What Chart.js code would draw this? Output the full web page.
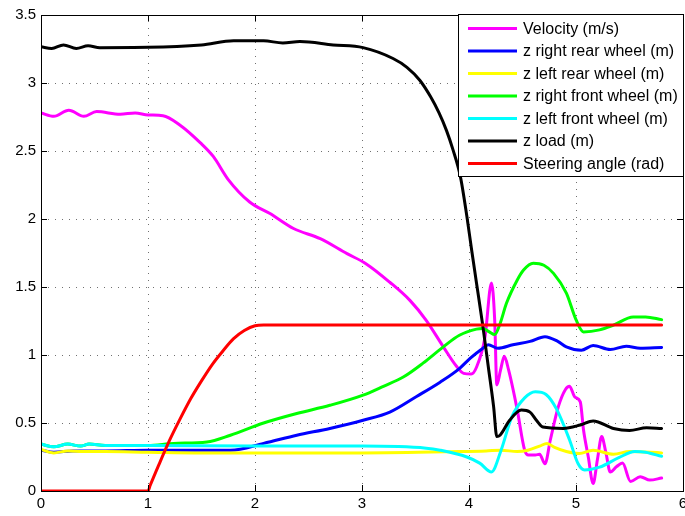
<!DOCTYPE html>
<html>
<head>
<meta charset="utf-8">
<script src="https://cdn.jsdelivr.net/npm/chart.js@4"></script>
<style>
  body { margin: 0; background: #fff; }
  canvas { display: block; }
</style>
</head>
<body>
<canvas id="myChart" width="685" height="516"></canvas>
<script>
// tick values
var xTicks = [0, 1, 2, 3, 4, 5, 6];
var yTicks = [0, 0.5, 1, 1.5, 2, 2.5, 3, 3.5];

var labels = [
  "Velocity (m/s)",
  "z right rear wheel (m)",
  "z left rear wheel (m)",
  "z right front wheel (m)",
  "z left front wheel (m)",
  "z load (m)",
  "Steering angle (rad)",
];
var colors = ["#ff00ff", "#0000ff", "#ffff00", "#00ff00", "#00ffff", "#000000", "#ff0000"];

// velocity (m/s)
var velT = [0, 0.12, 0.26, 0.4, 0.52, 0.74, 0.88, 1.0, 1.14, 1.3, 1.49, 1.61, 1.75, 1.95, 2.14, 2.36, 2.61, 2.86, 3.04, 3.26, 3.45, 3.6, 3.76, 3.885, 3.95, 4.02, 4.07, 4.15, 4.21, 4.24, 4.26, 4.295, 4.33, 4.37, 4.45, 4.52, 4.555, 4.62, 4.66, 4.71, 4.76, 4.835, 4.9, 4.94, 4.99, 5.04, 5.07, 5.115, 5.16, 5.2, 5.24, 5.28, 5.32, 5.38, 5.435, 5.51, 5.6, 5.69, 5.8];
var velY = [2.78, 2.755, 2.8, 2.755, 2.79, 2.77, 2.78, 2.765, 2.76, 2.69, 2.56, 2.46, 2.29, 2.125, 2.04, 1.93, 1.855, 1.745, 1.67, 1.535, 1.4, 1.255, 1.06, 0.915, 0.865, 0.86, 0.91, 1.135, 1.53, 1.26, 0.78, 0.89, 0.99, 0.89, 0.6, 0.3, 0.265, 0.265, 0.27, 0.2, 0.375, 0.62, 0.745, 0.77, 0.69, 0.655, 0.45, 0.25, 0.055, 0.23, 0.4, 0.28, 0.14, 0.18, 0.205, 0.07, 0.105, 0.08, 0.095];

// z right rear wheel
var rrT = [0, 0.12, 0.3, 0.6, 1.0, 1.5, 1.77, 2.08, 2.39, 2.7, 3.01, 3.26, 3.51, 3.73, 3.91, 4.01, 4.13, 4.18, 4.27, 4.41, 4.57, 4.71, 4.83, 4.91, 5.05, 5.16, 5.32, 5.47, 5.6, 5.8];
var rrY = [0.3, 0.285, 0.295, 0.295, 0.3, 0.3, 0.3, 0.35, 0.41, 0.46, 0.52, 0.58, 0.695, 0.8, 0.9, 0.975, 1.05, 1.075, 1.05, 1.075, 1.1, 1.135, 1.1, 1.06, 1.035, 1.07, 1.04, 1.065, 1.05, 1.055];

// z left rear wheel
var lrT = [0, 0.12, 0.25, 0.4, 0.6, 1.0, 1.5, 2.0, 3.0, 3.9, 4.16, 4.3, 4.45, 4.55, 4.66, 4.73, 4.8, 4.91, 5.03, 5.16, 5.35, 5.5, 5.8];
var lrY = [0.305, 0.28, 0.295, 0.29, 0.29, 0.285, 0.28, 0.28, 0.28, 0.29, 0.295, 0.3, 0.29, 0.3, 0.33, 0.35, 0.32, 0.29, 0.275, 0.3, 0.27, 0.29, 0.28];

// z right front wheel
var rfT = [0, 0.12, 0.25, 0.37, 0.45, 0.6, 1.0, 1.24, 1.55, 1.77, 2.08, 2.39, 2.7, 3.01, 3.2, 3.39, 3.57, 3.76, 3.91, 4.07, 4.13, 4.19, 4.24, 4.29, 4.35, 4.45, 4.51, 4.6, 4.7, 4.79, 4.91, 5.0, 5.07, 5.22, 5.35, 5.535, 5.65, 5.8];
var rfY = [0.345, 0.325, 0.345, 0.33, 0.345, 0.335, 0.335, 0.35, 0.36, 0.41, 0.5, 0.57, 0.63, 0.705, 0.77, 0.84, 0.94, 1.06, 1.145, 1.19, 1.195, 1.17, 1.15, 1.23, 1.38, 1.55, 1.625, 1.675, 1.66, 1.6, 1.455, 1.26, 1.17, 1.185, 1.22, 1.28, 1.28, 1.26];

// z left front wheel
var lfT = [0, 0.12, 0.25, 0.37, 0.45, 0.6, 1.0, 2.0, 3.0, 3.6, 3.73, 3.98, 4.1, 4.21, 4.3, 4.4, 4.52, 4.62, 4.72, 4.82, 4.94, 5.02, 5.08, 5.22, 5.4, 5.55, 5.65, 5.8];
var lfY = [0.345, 0.325, 0.345, 0.33, 0.345, 0.335, 0.335, 0.33, 0.33, 0.315, 0.3, 0.25, 0.205, 0.14, 0.3, 0.545, 0.685, 0.73, 0.71, 0.6, 0.375, 0.2, 0.155, 0.175, 0.245, 0.29, 0.285, 0.255];

// z load
var loadT = [0, 0.1, 0.21, 0.33, 0.44, 0.55, 1.0, 1.5, 1.8, 2.08, 2.26, 2.42, 2.73, 3.01, 3.29, 3.42, 3.54, 3.64, 3.72, 3.79, 3.85, 3.92, 3.98, 4.025, 4.07, 4.13, 4.18, 4.23, 4.26, 4.29, 4.38, 4.49, 4.57, 4.63, 4.69, 4.88, 5.04, 5.16, 5.35, 5.5, 5.66, 5.8];
var loadY = [3.266, 3.254, 3.28, 3.254, 3.273, 3.26, 3.262, 3.28, 3.31, 3.31, 3.295, 3.305, 3.28, 3.26, 3.18, 3.115, 3.02, 2.9, 2.78, 2.65, 2.51, 2.31, 2.02, 1.77, 1.53, 1.21, 0.915, 0.62, 0.4, 0.41, 0.52, 0.595, 0.58, 0.52, 0.47, 0.46, 0.485, 0.515, 0.46, 0.445, 0.465, 0.46];

// steering angle
var steerT = [0, 1.0, 1.02, 1.1, 1.2, 1.3, 1.4, 1.5, 1.6, 1.7, 1.8, 1.9, 2.0, 2.08, 5.8];
var steerY = [0, 0, 0.04, 0.19, 0.37, 0.53, 0.68, 0.81, 0.93, 1.03, 1.12, 1.18, 1.215, 1.22, 1.22];

var seriesT = [velT, rrT, lrT, rfT, lfT, loadT, steerT];
var seriesY = [velY, rrY, lrY, rfY, lfY, loadY, steerY];

var datasets = labels.map((label, k) => ({
  label: label,
  data: seriesT[k].map((t, i) => ({ x: t, y: seriesY[k][i] })),
  borderColor: colors[k],
  backgroundColor: colors[k],
  borderWidth: 3,
  pointRadius: 0,
  fill: false,
  cubicInterpolationMode: "monotone",
  borderJoinStyle: "round",
  borderCapStyle: "round",
  order: labels.length - k,
}));

// dotted grid under the lines
var gridPlugin = {
  id: "dotgrid",
  beforeDatasetsDraw(chart) {
    const c = chart.ctx;
    const a = chart.chartArea;
    const sx = chart.scales.x;
    const sy = chart.scales.y;
    c.save();
    c.strokeStyle = "#707070";
    c.lineWidth = 1;
    c.setLineDash([1, 6]);
    c.beginPath();
    xTicks.forEach((v) => {
      const p = Math.round(sx.getPixelForValue(v)) + 0.5;
      c.moveTo(p, a.bottom);
      c.lineTo(p, a.top);
    });
    yTicks.forEach((v) => {
      const p = Math.round(sy.getPixelForValue(v)) + 0.5;
      c.moveTo(a.left, p);
      c.lineTo(a.right, p);
    });
    c.stroke();
    c.restore();
  },
};

// matlab style box, inward ticks and legend
var boxPlugin = {
  id: "box",
  afterDatasetsDraw(chart) {
    const c = chart.ctx;
    const a = chart.chartArea;
    const sx = chart.scales.x;
    const sy = chart.scales.y;
    c.save();
    c.strokeStyle = "#000";
    c.lineWidth = 1;
    c.beginPath();
    xTicks.forEach((v) => {
      const p = Math.round(sx.getPixelForValue(v)) + 0.5;
      c.moveTo(p, a.bottom);
      c.lineTo(p, a.bottom - 6);
      c.moveTo(p, a.top);
      c.lineTo(p, a.top + 6);
    });
    yTicks.forEach((v) => {
      const p = Math.round(sy.getPixelForValue(v)) + 0.5;
      c.moveTo(a.left, p);
      c.lineTo(a.left + 6, p);
      c.moveTo(a.right, p);
      c.lineTo(a.right - 6, p);
    });
    c.stroke();
    c.strokeRect(Math.round(a.left) + 0.5, Math.round(a.top) + 0.5, Math.round(a.right - a.left), Math.round(a.bottom - a.top));

    // legend
    const lx = 458.5, ly = 14.5, lw = a.right - 458, lh = 162;
    c.fillStyle = "#fff";
    c.fillRect(lx, ly, lw, lh);
    c.strokeRect(lx, ly, lw, lh);
    c.font = "16px 'Liberation Sans', Arial, sans-serif";
    c.textBaseline = "middle";
    c.textAlign = "left";
    labels.forEach((label, k) => {
      const yy = 28.5 + k * 22.5;
      c.strokeStyle = colors[k];
      c.lineWidth = 3;
      c.beginPath();
      c.moveTo(468, yy);
      c.lineTo(517, yy);
      c.stroke();
      c.fillStyle = "#000";
      c.fillText(label, 523, yy + 1);
    });
    c.restore();
  },
};

const ctx = document.getElementById("myChart");
let myChart = new Chart(ctx, {
  type: "line",
  data: { datasets: datasets },
  options: {
    responsive: false,
    animation: false,
    layout: { padding: { top: 15, right: 2, left: 0, bottom: 0 } },
    plugins: {
      legend: { display: false },
      tooltip: { enabled: false },
    },
    scales: {
      x: {
        type: "linear",
        min: 0,
        max: 6,
        afterFit: (scale) => {
          scale.height = 25;
          scale.paddingLeft = 0;
          scale.paddingRight = 0;
        },
        afterBuildTicks: (scale) => {
          scale.ticks = xTicks.map((v) => ({ value: v }));
        },
        ticks: {
          color: "#000",
          padding: 4,
          maxRotation: 0,
          callback: (v) => String(v),
          font: { family: "'Liberation Sans', Arial, sans-serif", size: 15 },
        },
        grid: { display: false, drawTicks: false },
        border: { display: false },
      },
      y: {
        min: 0,
        max: 3.5,
        afterFit: (scale) => {
          scale.width = 41;
        },
        afterBuildTicks: (scale) => {
          scale.ticks = yTicks.map((v) => ({ value: v }));
        },
        ticks: {
          color: "#000",
          padding: 5,
          callback: (v) => String(v),
          font: { family: "'Liberation Sans', Arial, sans-serif", size: 15 },
        },
        grid: { display: false, drawTicks: false },
        border: { display: false },
      },
    },
  },
  plugins: [gridPlugin, boxPlugin],
});
</script>
</body>
</html>
